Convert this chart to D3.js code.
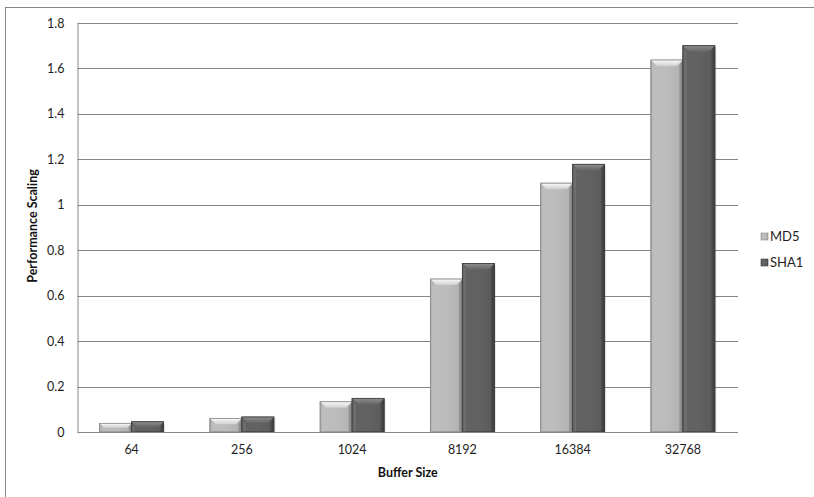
<!DOCTYPE html>
<html><head><meta charset="utf-8">
<script src="https://cdn.jsdelivr.net/npm/d3@7"></script>
<style>body{margin:0;background:#fff}svg{display:block}text{font-family:Lato,"Open Sans",sans-serif}</style>
</head><body><svg id="c" width="814" height="497"></svg>
<script>
const categories = ["64","256","1024","8192","16384","32768"];
const seriesNames = ["MD5","SHA1"];
const md5 = [0.038,0.060,0.133,0.673,1.095,1.637];
const sha1 = [0.045,0.066,0.148,0.742,1.178,1.700];
const yTicks = [0,0.2,0.4,0.6,0.8,1,1.2,1.4,1.6,1.8];
const series = [md5, sha1];

const svg = d3.select("#c");
const L = 77.5, R = 738, T = 23, B = 432;
// outer frame
svg.append("rect").attr("x",5.5).attr("y",7.5).attr("width",830).attr("height",500)
  .attr("fill","none").attr("stroke","#868686").attr("stroke-width",1);

const y = d3.scaleLinear().domain([0,1.8]).range([B,T]);
const x0 = d3.scaleBand().domain(categories).range([L-1,R]).paddingInner(0.42).paddingOuter(0.21);
const x1 = d3.scaleBand().domain(seriesNames).range([0,x0.bandwidth()]);

const defs = svg.append("defs");
function grad(id, stops, horiz){
  const g = defs.append("linearGradient").attr("id",id)
    .attr("x1",0).attr("y1",0).attr("x2",horiz?1:0).attr("y2",horiz?0:1);
  stops.forEach(s=>g.append("stop").attr("offset",s[0]).attr("stop-color",s[1]));
}
grad("g0",[[0,"#a6a6a6"],[0.12,"#bdbdbd"],[0.5,"#bcbcbc"],[0.88,"#b3b3b3"],[1,"#929292"]],true);
grad("g1",[[0,"#555"],[0.12,"#626262"],[0.5,"#626262"],[0.88,"#5c5c5c"],[1,"#444"]],true);
grad("t0",[[0,"#fafafa"],[1,"#cfcfcf"]],false);
grad("t1",[[0,"#8e8e8e"],[1,"#656565"]],false);
const strokes = ["#8c8c8c","#3f3f3f"];

// gridlines
svg.append("g").selectAll("line").data(yTicks.filter(d=>d>0)).join("line")
  .attr("x1",L).attr("x2",R).attr("y1",d=>Math.round(y(d))+0.5).attr("y2",d=>Math.round(y(d))+0.5)
  .attr("stroke","#868686").attr("stroke-width",1);

// y axis
const yAxis = svg.append("g").attr("transform",`translate(${L},0)`)
  .call(d3.axisLeft(y).tickValues(yTicks).tickSize(0).tickPadding(13).tickFormat(d=>String(d)));
yAxis.select(".domain").attr("stroke","#868686");
yAxis.selectAll("text").attr("font-size",12.5).attr("fill","#1e1e1e");

// bars
const groups = svg.append("g").selectAll("g").data(categories).join("g")
  .attr("transform",d=>`translate(${x0(d)},0)`);
groups.each(function(cat,i){
  const g = d3.select(this);
  seriesNames.forEach((s,j)=>{
    const v = series[j][i];
    const bx = x1(s), bw = x1.bandwidth(), by = y(v), bh = B - y(v);
    const bev = Math.min(6, bh/2);
    g.append("rect").attr("x",bx+1.5).attr("y",by+1.5).attr("width",bw).attr("height",bh-1.5)
      .attr("fill","#000").attr("opacity",0.12);
    g.append("rect").attr("x",bx).attr("y",by).attr("width",bw).attr("height",bh)
      .attr("fill",`url(#g${j})`).attr("stroke",strokes[j]).attr("stroke-width",0.8);
    g.append("path").attr("d",`M${bx},${by}L${bx+bw},${by}L${bx+bw-bev},${by+bev}L${bx+bev},${by+bev}Z`)
      .attr("fill",`url(#t${j})`);
    g.append("path").attr("d",`M${bx},${by}L${bx+bev*0.6},${by+bev}L${bx+bev*0.6},${B}L${bx},${B}Z`)
      .attr("fill","#fff").attr("opacity",0.10);
    g.append("path").attr("d",`M${bx+bw},${by}L${bx+bw-bev*0.6},${by+bev}L${bx+bw-bev*0.6},${B}L${bx+bw},${B}Z`)
      .attr("fill","#000").attr("opacity",0.12);
    g.append("rect").attr("x",bx).attr("y",by).attr("width",bw).attr("height",bh)
      .attr("fill","none").attr("stroke",strokes[j]).attr("stroke-width",0.8);
  });
});

// x axis
const xAxis = svg.append("g").attr("transform",`translate(0,${B})`)
  .call(d3.axisBottom(x0).tickSize(0).tickPadding(13));
xAxis.select(".domain").attr("stroke","#868686").attr("d",`M${L},0.5H${R}`);
xAxis.selectAll("text").attr("font-size",12.5).attr("fill","#1e1e1e");

// axis titles
svg.append("text").attr("x",(L+R)/2).attr("y",477).attr("text-anchor","middle")
  .attr("font-size",12.5).attr("font-weight","bold").attr("fill","#111").text("Buffer Size");
svg.append("text").attr("transform","translate(37,226) rotate(-90)").attr("text-anchor","middle")
  .attr("font-size",12.5).attr("font-weight","bold").attr("fill","#111").text("Performance Scaling");

// legend
const leg = svg.append("g").selectAll("g").data(seriesNames).join("g")
  .attr("transform",(d,i)=>`translate(761,${233+i*26})`);
leg.append("rect").attr("width",7).attr("height",7).attr("fill",(d,i)=>`url(#g${i})`)
  .attr("stroke",(d,i)=>strokes[i]).attr("stroke-width",0.6);
leg.append("text").attr("x",9).attr("y",8).attr("font-size",13).attr("fill","#1e1e1e").text(d=>d);
</script></body></html>
